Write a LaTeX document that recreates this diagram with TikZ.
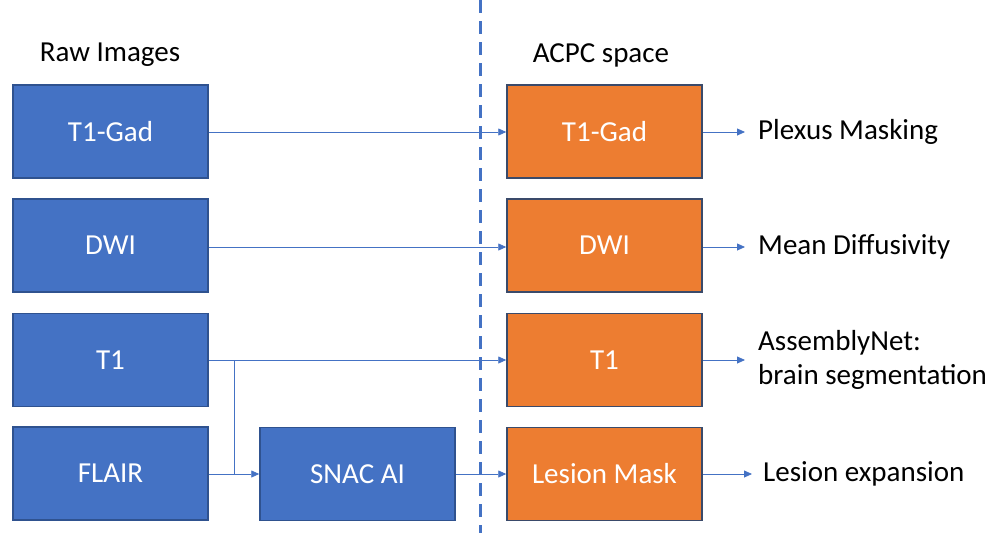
\documentclass[tikz,border=0pt]{standalone}
\usepackage{fontspec}
\setmainfont{Carlito}
\usetikzlibrary{arrows.meta}
\definecolor{bfill}{HTML}{4472C4}
\definecolor{bdraw}{HTML}{2F528F}
\definecolor{ofill}{HTML}{ED7D31}
\definecolor{odraw}{HTML}{3A4A6A}
\begin{document}
\begin{tikzpicture}[x=1pt,y=-1pt,
  txt/.style={font=\fontsize{29}{34}\selectfont},
  bluebox/.style={txt,draw=bdraw,line width=1.5pt,fill=bfill,text=white,minimum width=195pt,minimum height=93pt,inner sep=0pt},
  orbox/.style={txt,draw=odraw,line width=1.5pt,fill=ofill,text=white,minimum width=195pt,minimum height=93pt,inner sep=0pt},
  conn/.style={draw=bfill,line width=0.8pt,-{Triangle[length=8pt,width=7pt]}},
  lbl/.style={txt,anchor=west,inner sep=0pt,align=left}]
\useasboundingbox (0,0) rectangle (991,533);
\draw[bfill,line width=3pt,dash pattern=on 13pt off 8pt] (480,0) -- (480,533);
\node[txt] (raw) at (110,55) {Raw Images};
\node[txt] (acpc) at (601,55) {ACPC space};
\node[bluebox] (gad) at (110.5,131.5) {T1-Gad};
\node[bluebox] (dwi) at (110.5,245.5) {DWI};
\node[bluebox] (t1) at (110.5,360) {T1};
\node[bluebox] (flair) at (110.5,473.5) {FLAIR};
\node[bluebox] (snac) at (357.5,474) {SNAC AI};
\node[orbox] (ogad) at (604.5,131.5) {T1-Gad};
\node[orbox] (odwi) at (604.5,245.5) {DWI};
\node[orbox] (ot1) at (604.5,360) {T1};
\node[orbox] (ole) at (604.5,474) {Lesion Mask};
\node[lbl] (pm) at (758,132) {Plexus Masking};
\node[lbl] (md) at (758,247) {Mean Diffusivity};
\node[lbl] (an) at (758,360) {AssemblyNet:\\brain segmentation};
\node[lbl] (le) at (763,474) {Lesion expansion};
\coordinate (br) at (234,360);
\draw[conn] (gad.east |- 0,132) -- (ogad.west |- 0,132);
\draw[conn] (dwi.east |- 0,247) -- (odwi.west |- 0,247);
\draw[conn] (t1.east) -- (ot1.west);
\draw[conn] (br) |- (snac.west);
\draw[bfill,line width=0.8pt] (flair.east |- snac.west) -- (br |- snac.west);
\draw[conn] (snac.east) -- (ole.west);
\draw[conn] (ogad.east |- 0,132) -- (745,132);
\draw[conn] (odwi.east |- 0,247) -- (745,247);
\draw[conn] (ot1.east) -- (745,360);
\draw[conn] (ole.east) -- (752,474);
\end{tikzpicture}
\end{document}
